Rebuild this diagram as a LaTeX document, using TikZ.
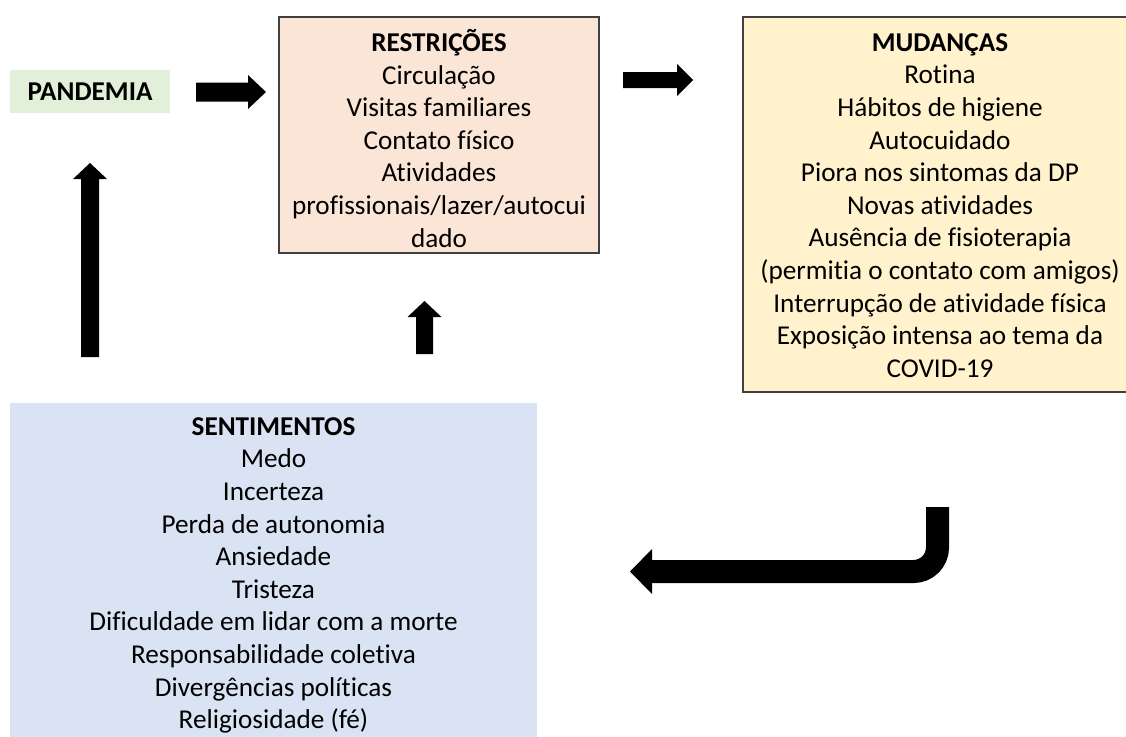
\documentclass[tikz,border=0pt]{standalone}
\usepackage{fontspec}
\setmainfont{Carlito}[Ligatures=NoCommon]
\definecolor{peach}{HTML}{FBE5D6}
\definecolor{paleyellow}{HTML}{FFF2CC}
\definecolor{paleblue}{HTML}{DAE3F3}
\definecolor{palegreen}{HTML}{E2F0D9}
\begin{document}
\begin{tikzpicture}[x=1pt,y=-1pt,
  boxborder/.style={draw=black!75,line width=1.3pt},
  txt/.style={inner sep=0pt,align=center,anchor=north},
  blockarrow/.style={fill=black,draw=none}]
\useasboundingbox (0,0) rectangle (1126,736);
\fontsize{27.2}{32.6}\selectfont
% boxes
\node[fill=palegreen,minimum width=160pt,minimum height=43pt,inner sep=0pt,font=\bfseries] (pand) at (90,91.5) {PANDEMIA};
\path[fill=peach,boxborder] (279,17) rectangle (599,253);
\node[inner sep=0pt,minimum width=320pt,minimum height=236pt] (restr) at (439,135) {};
\node[txt] (restrt) at (439,29.2) {\fontsize{27.2}{31.2}\selectfont\textbf{RESTRIÇÕES}\strut\\Circulação\\Visitas familiares\\Contato físico\\Atividades\\profissionais/lazer/autocui\\dado};
\path[fill=paleyellow,boxborder] (743,17) rectangle (1135,392);
\node[inner sep=0pt,minimum width=383pt,minimum height=375pt] (mud) at (934.5,204.5) {};
\node[txt] (mudt) at (940,28.2) {\textbf{MUDANÇAS}\strut\\Rotina\\Hábitos de higiene\\Autocuidado\\Piora nos sintomas da DP\\Novas atividades\\Ausência de fisioterapia\\(permitia o contato com amigos)\\Interrupção de atividade física\\Exposição intensa ao tema da\\COVID-19};
\node[fill=paleblue,inner sep=0pt,minimum width=527pt,minimum height=340pt] (sent) at (273.5,573) {};
\node[txt] (sentt) at (273.5,412.2) {\textbf{SENTIMENTOS}\strut\\Medo\\Incerteza\\Perda de autonomia\\Ansiedade\\Tristeza\\Dificuldade em lidar com a morte\\Responsabilidade coletiva\\Divergências políticas\\Religiosidade (fé)};
% arrow anchor coordinates
\coordinate (a1s) at (196,92);
\coordinate (a1e) at (266,92);
\coordinate (a2s) at (623,80);
\coordinate (a2e) at (693,80);
\coordinate (a3s) at (90,357);
\coordinate (a3e) at (90,163);
\coordinate (a4s) at (424.5,354);
\coordinate (a4e) at (424.5,301);
\coordinate (a5s) at (937.5,507);
\coordinate (a5c) at (937.5,571.5);
\coordinate (a5e) at (630,571.5);
% arrow 1 (PANDEMIA -> RESTRICOES)
\fill[blockarrow] ([yshift=-9.5pt]a1s) -- ([xshift=-18pt,yshift=-9.5pt]a1e) -- ([xshift=-18pt,yshift=-17pt]a1e) -- (a1e) -- ([xshift=-18pt,yshift=17pt]a1e) -- ([xshift=-18pt,yshift=9.5pt]a1e) -- ([yshift=9.5pt]a1s) -- cycle;
% arrow 2 (RESTRICOES -> MUDANCAS)
\fill[blockarrow] ([yshift=-8pt]a2s) -- ([xshift=-16pt,yshift=-8pt]a2e) -- ([xshift=-16pt,yshift=-16pt]a2e) -- (a2e) -- ([xshift=-16pt,yshift=16pt]a2e) -- ([xshift=-16pt,yshift=8pt]a2e) -- ([yshift=8pt]a2s) -- cycle;
% arrow 3 (up, left)
\fill[blockarrow] ([xshift=-9pt]a3s) -- ([xshift=-9pt,yshift=-16pt]a3e) -- ([xshift=-17pt,yshift=-16pt]a3e) -- (a3e) -- ([xshift=17pt,yshift=-16pt]a3e) -- ([xshift=9pt,yshift=-16pt]a3e) -- ([xshift=9pt]a3s) -- cycle;
% arrow 4 (up, middle)
\fill[blockarrow] ([xshift=-8.5pt]a4s) -- ([xshift=-8.5pt,yshift=-16pt]a4e) -- ([xshift=-17pt,yshift=-16pt]a4e) -- (a4e) -- ([xshift=17pt,yshift=-16pt]a4e) -- ([xshift=8.5pt,yshift=-16pt]a4e) -- ([xshift=8.5pt]a4s) -- cycle;
% hook arrow
\draw[line width=23pt,rounded corners=24pt] (a5s) -- (a5c) -- ([xshift=21.5pt]a5e);
\fill[blockarrow] ([xshift=22pt,yshift=-22.5pt]a5e) -- (a5e) -- ([xshift=22pt,yshift=22.5pt]a5e) -- cycle;
\end{tikzpicture}
\end{document}
